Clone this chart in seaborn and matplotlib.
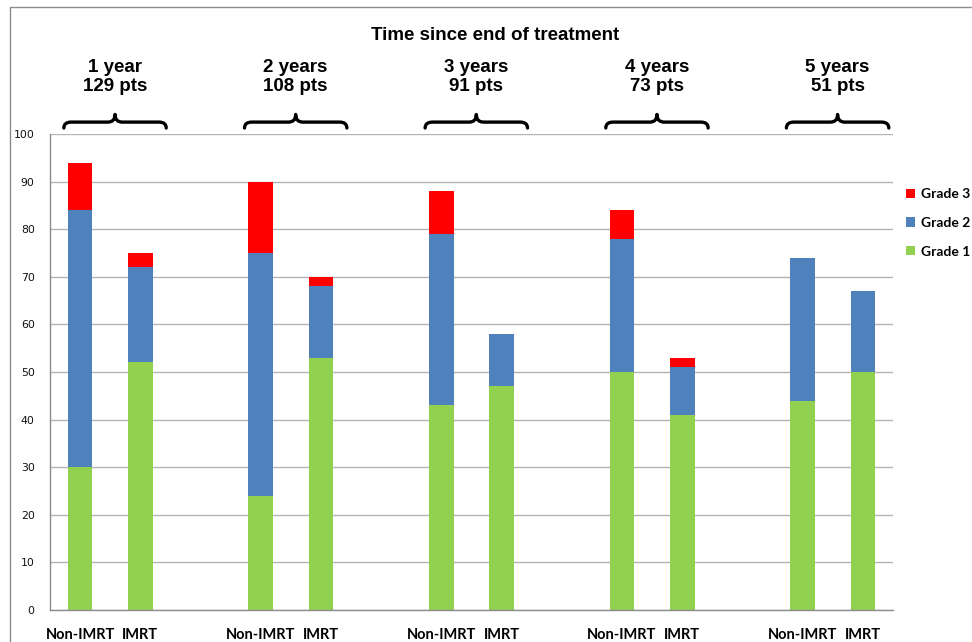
import matplotlib
matplotlib.use('Agg')

import numpy as np
import pandas as pd

import matplotlib.pyplot as plt
from matplotlib.lines import Line2D
from matplotlib.path import Path
from matplotlib.patches import PathPatch
import seaborn as sns


# data (percent of patients)
periodos = ['1 year', '2 years', '3 years', '4 years', '5 years']
pacientes = ['129 pts', '108 pts', '91 pts', '73 pts', '51 pts']
tratamientos = ['Non-IMRT', 'IMRT']

grado_1 = [30, 52, 24, 53, 43, 47, 50, 41, 44, 50]
grado_2 = [54, 20, 51, 15, 36, 11, 28, 10, 30, 17]
grado_3 = [10, 3, 15, 2, 9, 0, 6, 2, 0, 0]

colores = {'Grade 3': '#FF0000', 'Grade 2': '#4F81BD', 'Grade 1': '#92D050'}


def armar_tabla():
    # two bars per period, one empty slot between periods
    filas = []
    for i, periodo in enumerate(periodos):
        for j, trat in enumerate(tratamientos):
            k = 2 * i + j
            filas.append({'slot': 3 * i + j,
                          'periodo': periodo,
                          'tratamiento': trat,
                          'g1': grado_1[k],
                          'g2': grado_2[k],
                          'g3': grado_3[k]})
    df = pd.DataFrame(filas)
    df['hasta_g1'] = df['g1']
    df['hasta_g2'] = df['g1'] + df['g2']
    df['hasta_g3'] = df['g1'] + df['g2'] + df['g3']
    return df


def dibujar_llave(ax, x0, x1, xc, y_base=1.0126, y_bar=1.025, y_tip=1.041):
    tr = ax.get_xaxis_transform()
    r = 0.12
    verts = [(x0, y_base), (x0, y_bar), (x0 + r, y_bar),
             (xc - r, y_bar),
             (xc, y_bar), (xc, y_tip),
             (xc, y_bar), (xc + r, y_bar),
             (x1 - r, y_bar),
             (x1, y_bar), (x1, y_base)]
    codes = [Path.MOVETO, Path.CURVE3, Path.CURVE3,
             Path.LINETO,
             Path.CURVE3, Path.CURVE3,
             Path.CURVE3, Path.CURVE3,
             Path.LINETO,
             Path.CURVE3, Path.CURVE3]
    ax.add_patch(PathPatch(Path(verts, codes), transform=tr, fill=False,
                           lw=2.4, color='black', clip_on=False,
                           capstyle='round', joinstyle='round'))


df = armar_tabla()

sns.set_style('white')
plt.rcParams['font.family'] = ['DejaVu Sans']
plt.rcParams['text.color'] = 'black'

fig = plt.figure(figsize=(9.72, 6.42), dpi=100)
ax = fig.add_axes([50 / 972, 1 - 610 / 642, 843 / 972, 476 / 642])

for columna, grado in [('hasta_g3', 'Grade 3'), ('hasta_g2', 'Grade 2'),
                       ('hasta_g1', 'Grade 1')]:
    sns.barplot(data=df, x='slot', y=columna, native_scale=True,
                color=colores[grado], saturation=1, width=0.41,
                linewidth=0, errorbar=None, label=grado, ax=ax)

ax.set_xlim(-0.5, 13.5)
ax.set_ylim(0, 100)
ax.set_yticks(np.arange(0, 101, 10))
ax.set_xticks(df['slot'])
ax.set_xticklabels(df['tratamiento'], fontfamily='Lato', fontweight='bold',
                   fontsize=10.5)
ax.tick_params(axis='x', length=0, pad=13, colors='black')
ax.tick_params(axis='y', length=5, width=1, color='#8C8C8C', pad=6,
               labelsize=7.8, labelcolor='#111111')
ax.set_xlabel('')
ax.set_ylabel('')

ax.yaxis.grid(True, color='#B4B4B4', lw=1)
ax.set_axisbelow(True)
for lado in ['top', 'right']:
    ax.spines[lado].set_visible(False)
for lado in ['left', 'bottom']:
    ax.spines[lado].set_color('#8C8C8C')
    ax.spines[lado].set_linewidth(1)

# braces and period labels above each pair of bars
for i, (periodo, pts) in enumerate(zip(periodos, pacientes)):
    inicio = 3 * i
    dibujar_llave(ax, inicio - 0.27, inicio + 1.43, inicio + 0.58)
    ax.text(inicio + 0.58, (610 - 77) / 476, periodo + '\n' + pts,
            transform=ax.get_xaxis_transform(), ha='center', va='center',
            fontfamily='Liberation Sans', fontweight='bold', fontsize=13.5,
            linespacing=1.2)

fig.text(495 / 972, 1 - 36 / 642, 'Time since end of treatment',
         ha='center', va='center', fontfamily='Liberation Sans',
         fontweight='bold', fontsize=13.5)

manijas, etiquetas = ax.get_legend_handles_labels()
ax.legend(manijas, etiquetas, loc='center left',
          bbox_to_anchor=(906 / 972, 1 - 223 / 642),
          bbox_transform=fig.transFigure, frameon=False, borderpad=0,
          borderaxespad=0, handlelength=0.66, handleheight=0.66,
          handletextpad=0.4, labelspacing=1.2,
          prop={'family': 'Lato', 'weight': 'bold', 'size': 10})

# chart frame, as in the spreadsheet export
fig.add_artist(Line2D([10 / 972, 10 / 972], [0, 1 - 7 / 642],
                      transform=fig.transFigure, color='#8C8C8C', lw=1))
fig.add_artist(Line2D([10 / 972, 1], [1 - 7 / 642, 1 - 7 / 642],
                      transform=fig.transFigure, color='#8C8C8C', lw=1))

fig.savefig('out.png', dpi=100)
